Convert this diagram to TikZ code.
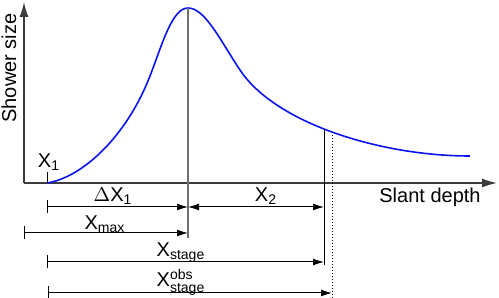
\documentclass[tikz,border=0pt]{standalone}
\usepackage{fontspec}
\setmainfont{Liberation Sans}
\usetikzlibrary{arrows.meta}
\definecolor{SDBlue}{HTML}{0A14F0}
\definecolor{SDAxis}{HTML}{3C3C3C}
\definecolor{SDGrey}{HTML}{707070}

\begin{document}
\begin{tikzpicture}[x=0.5pt,y=-0.5pt,
  axis/.style={SDAxis,line width=0.65pt,-{Latex[length=7.5pt,width=4.5pt]}},
  dim/.style={black,line width=0.5pt,{Bar[width=6.5pt]}-{Latex[length=5.5pt,width=3.5pt]}},
  dimboth/.style={black,line width=0.5pt,{Latex[length=5.5pt,width=3.5pt]}-{Latex[length=5.5pt,width=3.5pt]}},
  lbl/.style={anchor=base,inner sep=0pt}]
\path[use as bounding box] (0,0) rectangle (499,298);
% axes
\coordinate (origin) at (24,183);
\coordinate (ytip) at (24,2);
\coordinate (xtip) at (497,183);
\draw[axis] (origin) -- (ytip);
\draw[axis] (origin) -- (xtip);
\node[rotate=90] (ylabel) at (9,68) {Shower size};
\node[lbl] (xlabel) at (430,203) {Slant depth};
% marks on the profile
\coordinate (x1) at (47,183);
\coordinate (x1top) at (47,172);
\coordinate (xmax) at (188,8);
\coordinate (xmaxfoot) at (188,238);
\coordinate (xst) at (324,129.5);
\coordinate (xstfoot) at (324,265);
\coordinate (xobs) at (332,132.5);
\coordinate (xobsfoot) at (332,298);
% longitudinal profile
\draw[SDBlue,line width=0.8pt] (x1) .. controls (80,178) and (125,140) .. (150,76)
  .. controls (162,45) and (172,8) .. (xmax)
  .. controls (205,8) and (220,40) .. (240,70)
  .. controls (275,123) and (380,156) .. (470,156);
\draw[black,line width=0.5pt] (x1) -- (x1top);
\node[lbl] (x1label) at (49,168) {X\textsubscript{1}};
\draw[SDGrey,line width=0.7pt] (xmax) -- (xmaxfoot);
\draw[black,line width=0.5pt] (xst) -- (xstfoot);
\draw[black,line width=0.5pt,densely dotted] (xobs) -- (xobsfoot);
% depths
\draw[dim] (x1 |- 0,207) -- (xmax |- 0,207);
\node[lbl] (dx1label) at (113,202) {$\Delta$X\textsubscript{1}};
\draw[dimboth] (xmax |- 0,207) -- (xst |- 0,207);
\node[lbl] (x2label) at (266,202) {X\textsubscript{2}};
\draw[dim] (origin |- 0,233) -- (xmax |- 0,233);
\node[lbl] (xmaxlabel) at (105,230) {X\textsubscript{max}};
\draw[dim] (x1 |- 0,262) -- (xst |- 0,262);
\node[lbl] (xstlabel) at (181,257) {X\textsubscript{stage}};
\draw[dim] (48,293) -- (xobs |- 0,293);
\node[lbl] (xobslabel) at (181,287) {X$^{\mbox{\scriptsize obs}}_{\mbox{\scriptsize stage}}$};
\end{tikzpicture}
\end{document}
